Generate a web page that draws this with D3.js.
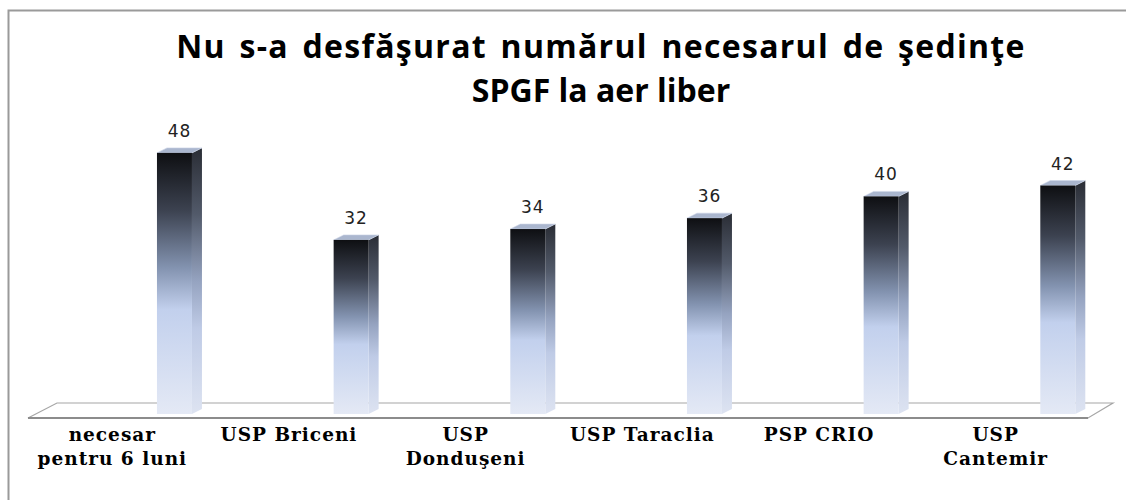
<!DOCTYPE html>
<html>
<head>
<meta charset="utf-8">
<script src="https://cdn.jsdelivr.net/npm/d3@7"></script>
<style>
    body { margin: 0; background: #fff; }
    .title { font-family: "Open Sans", sans-serif; font-weight: bold; font-size: 32px; fill: #000; }
    .cat { font-family: "DejaVu Serif", serif; font-weight: bold; font-size: 18.5px; fill: #000; letter-spacing: 1px; }
    .val { font-family: "DejaVu Sans", sans-serif; font-size: 17px; fill: #222; letter-spacing: 1px; }
</style>
</head>
<body>
<div id="chart"></div>
<script>
var categories = ["necesar\npentru 6 luni", "USP Briceni", "USP\nDonduşeni", "USP Taraclia", "PSP CRIO", "USP\nCantemir"];
var values = [48, 32, 34, 36, 40, 42];
var titleLines = ["Nu s-a desfăşurat numărul necesarul de şedinţe", "SPGF la aer liber"];

var width = 1126,
    height = 500,
    DEPTH_X = 10,
    DEPTH_Y = 5,
    BAR_W = 35;

var svg = d3.select("#chart")
    .append("svg")
        .attr("width", width)
        .attr("height", height);

/* Gradients */
var defs = svg.append("defs");
function addGradient(id, stops){
    var g = defs.append("linearGradient")
        .attr("id", id)
        .attr("x1", 0).attr("y1", 0)
        .attr("x2", 0).attr("y2", 1);
    stops.forEach(function(s){
        g.append("stop").attr("offset", s[0]).attr("stop-color", s[1]);
    });
}
addGradient("front", [["0%", "#0e0f12"], ["22%", "#3c4250"], ["44%", "#8393b0"], ["60%", "#c2d0ed"], ["100%", "#e4e9f5"]]);
addGradient("side", [["0%", "#2a2d35"], ["25%", "#525a6a"], ["50%", "#95a3c0"], ["68%", "#bfcbe6"], ["100%", "#dde3f1"]]);

/* Border */
svg.append("rect")
    .attr("x", 8.5)
    .attr("y", 10.5)
    .attr("width", width + 20)
    .attr("height", height + 20)
    .attr("fill", "none")
    .attr("stroke", "#9a9a9a")
    .attr("stroke-width", 2);

/* Title - first line is spread wider, as in the original */
svg.append("text")
    .attr("class", "title")
    .attr("text-anchor", "middle")
    .selectAll("tspan")
    .data(titleLines)
    .enter()
    .append("tspan")
        .attr("x", 601)
        .attr("y", function(d, i){ return 58 + i * 44; })
        .attr("letter-spacing", function(d, i){ return i === 0 ? 1.3 : 0; })
        .attr("word-spacing", function(d, i){ return i === 0 ? 4 : 0; })
        .text(function(d){ return d; });

/* Scales */
var x = d3.scaleBand()
    .domain(categories)
    .range([28, 1088]);
var y = d3.scaleLinear()
    .domain([0, 50])
    .range([414, 142]);

/* Floor */
var floorFront = 418,
    floorBack = 403;
svg.append("path")
    .attr("d", "M" + x.range()[0] + "," + floorFront +
        "L" + (x.range()[0] + 29) + "," + floorBack +
        "L" + (x.range()[1] + 25) + "," + floorBack +
        "L" + x.range()[1] + "," + floorFront + "Z")
    .attr("fill", "#fff")
    .attr("stroke", "#a6a6a6")
    .attr("stroke-width", 1.2);
svg.append("line")
    .attr("x1", x.range()[0]).attr("x2", x.range()[1])
    .attr("y1", floorFront).attr("y2", floorFront)
    .attr("stroke", "#8c8c8c")
    .attr("stroke-width", 2);

/* Bars */
var bars = svg.selectAll(".bar")
    .data(values)
    .enter()
    .append("g")
        .attr("class", "bar")
        .attr("transform", function(d, i){ return "translate(" + (x(categories[i]) + x.bandwidth() * 0.73) + ",0)"; });

// side face
bars.append("path")
    .attr("fill", "url(#side)")
    .attr("d", function(d){
        return "M" + BAR_W + "," + y(d) + "L" + (BAR_W + DEPTH_X) + "," + (y(d) - DEPTH_Y) +
            "L" + (BAR_W + DEPTH_X) + "," + (y(0) - DEPTH_Y) + "L" + BAR_W + "," + y(0) + "Z";
    });
// top face
bars.append("path")
    .attr("fill", "#aab6ce")
    .attr("stroke", "#ccd5e8")
    .attr("stroke-width", 0.6)
    .attr("d", function(d){
        return "M0," + y(d) + "L" + DEPTH_X + "," + (y(d) - DEPTH_Y) +
            "L" + (BAR_W + DEPTH_X) + "," + (y(d) - DEPTH_Y) + "L" + BAR_W + "," + y(d) + "Z";
    });
// front face
bars.append("rect")
    .attr("fill", "url(#front)")
    .attr("x", 0)
    .attr("y", function(d){ return y(d); })
    .attr("width", BAR_W)
    .attr("height", function(d){ return y(0) - y(d); });

/* Value labels */
bars.append("text")
    .attr("class", "val")
    .attr("text-anchor", "middle")
    .attr("x", (BAR_W + DEPTH_X) / 2)
    .attr("y", function(d){ return y(d) - DEPTH_Y - 11; })
    .text(function(d){ return d; });

/* Category labels */
svg.selectAll(".cat")
    .data(categories)
    .enter()
    .append("text")
        .attr("class", "cat")
        .attr("text-anchor", "middle")
        .each(function(d){
            var lines = d.split("\n");
            var cx = x(d) + x.bandwidth() / 2 - 4;
            d3.select(this).selectAll("tspan")
                .data(lines)
                .enter()
                .append("tspan")
                    .attr("x", cx)
                    .attr("y", function(l, i){ return 441 + i * 24; })
                    .text(function(l){ return l; });
        });
</script>
</body>
</html>
